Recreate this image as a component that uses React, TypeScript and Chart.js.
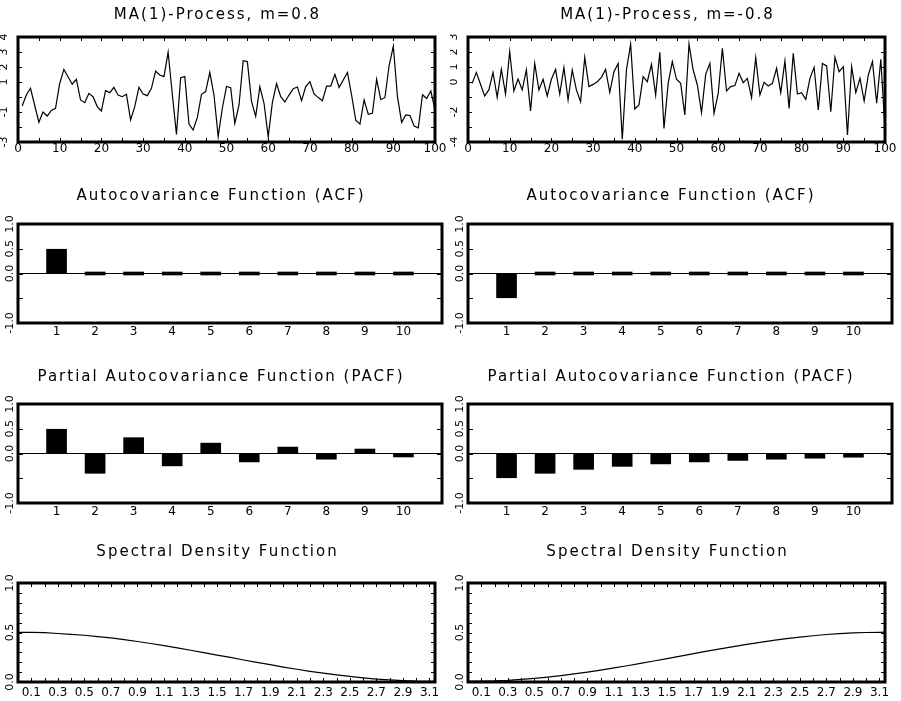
import React, { useEffect, useRef } from 'react';
import { Chart, registerables } from 'chart.js';

Chart.register(...registerables);

const FONT = 'DejaVu Sans';

// ---------- titles ----------
const titleTsPos = 'MA(1)-Process, m=0.8';
const titleTsNeg = 'MA(1)-Process, m=-0.8';
const titleAcf = 'Autocovariance Function (ACF)';
const titlePacf = 'Partial Autocovariance Function (PACF)';
const titleSdf = 'Spectral Density Function';

// ---------- simulated series (t = 1..100) ----------
const seriesPos = [
  -0.60, 0.13, 0.58, -0.55, -1.68, -1.00, -1.27, -0.90, -0.75, 0.90,
  1.84, 1.35, 0.85, 1.18, -0.20, -0.38, 0.24, 0.02, -0.64, -0.93,
  0.42, 0.29, 0.64, 0.13, 0.02, 0.18, -1.53, -0.64, 0.64, 0.20,
  0.09, 0.58, 1.73, 1.47, 1.36, 2.98, 0.20, -2.49, 1.29, 1.36,
  -1.80, -2.20, -1.38, 0.18, 0.36, 1.64, 0.13, -2.64, -0.75, 0.70,
  0.62, -1.76, -0.53, 2.42, 2.36, -0.29, -1.29, 0.69, -0.42, -2.66,
  -0.38, 0.89, 0.02, -0.33, 0.13, 0.55, 0.67, -0.25, 0.69, 1.02,
  0.20, -0.04, -0.25, 0.73, 0.73, 1.51, 0.64, 1.13, 1.64, 0.13,
  -1.55, -1.81, -0.20, -1.16, -1.09, 1.18, -0.18, -0.03, 2.10, 3.38,
  0.02, -1.69, -1.20, -1.24, -1.93, -2.06, 0.15, -0.10, 0.40, -0.85,
];

const seriesNeg = [
  -0.09, 0.64, -0.15, -0.93, -0.53, 0.64, -1.02, 0.84, -0.80, 2.02,
  -0.60, 0.20, -0.53, 0.80, -1.93, 1.24, -0.53, 0.18, -0.93, 0.18,
  0.84, -0.80, 0.96, -1.20, 0.80, -0.53, -1.31, 1.64, -0.31, -0.16,
  0.02, 0.31, 0.84, -0.69, 0.69, 1.24, -3.82, 0.80, 2.53, -1.80,
  -1.53, 0.36, 0.02, 1.18, -0.87, 1.98, -3.09, -0.09, 1.36, 0.18,
  -0.09, -2.20, 2.53, 0.80, -0.20, -2.04, 0.51, 1.24, -2.09, -0.76,
  2.24, -0.60, -0.31, -0.24, 0.58, -0.04, 0.24, -1.04, 1.62, -0.87,
  -0.02, -0.27, -0.09, 0.91, -0.71, 1.40, -1.76, 1.91, -0.80, -0.71,
  -1.16, 0.24, 0.98, -1.87, 1.24, 1.07, -1.98, 1.64, 0.69, 1.02,
  -3.53, 1.02, -0.71, 0.24, -1.27, 0.47, 1.36, -1.42, 1.51, -3.20,
];

// ---------- ACF / PACF ----------
const lags = [1, 2, 3, 4, 5, 6, 7, 8, 9, 10];
const acfPos = [0.49, 0, 0, 0, 0, 0, 0, 0, 0, 0];
const acfNeg = [-0.49, 0, 0, 0, 0, 0, 0, 0, 0, 0];
const pacfPos = [0.49, -0.40, 0.32, -0.25, 0.21, -0.17, 0.13, -0.115, 0.09, -0.07];
const pacfNeg = [-0.49, -0.40, -0.32, -0.26, -0.21, -0.17, -0.14, -0.115, -0.095, -0.075];

// ---------- spectral density ----------
const freq = [
  0, 0.1, 0.2, 0.3, 0.4, 0.5, 0.6, 0.7, 0.8, 0.9, 1.0, 1.1, 1.2, 1.3, 1.4, 1.5,
  1.6, 1.7, 1.8, 1.9, 2.0, 2.1, 2.2, 2.3, 2.4, 2.5, 2.6, 2.7, 2.8, 2.9, 3.0, 3.1, 3.1416,
];
const sdfPos = [
  0.502, 0.501, 0.498, 0.490, 0.482, 0.472, 0.459, 0.445, 0.428, 0.409, 0.389,
  0.367, 0.344, 0.321, 0.297, 0.272, 0.248, 0.222, 0.198, 0.175, 0.151, 0.129,
  0.108, 0.090, 0.072, 0.056, 0.042, 0.030, 0.021, 0.014, 0.009, 0.007, 0.006,
];
const sdfNeg = [
  0.007, 0.008, 0.011, 0.017, 0.026, 0.037, 0.050, 0.065, 0.082, 0.100, 0.120,
  0.142, 0.164, 0.188, 0.212, 0.237, 0.262, 0.286, 0.311, 0.335, 0.358, 0.380,
  0.401, 0.420, 0.438, 0.453, 0.467, 0.480, 0.488, 0.496, 0.500, 0.502, 0.503,
];

// ---------- ticks ----------
const tsXTickValues = [0, 5, 10, 15, 20, 25, 30, 35, 40, 45, 50, 55, 60, 65, 70, 75, 80, 85, 90, 95, 100];
const tsXTickLabels = ['0', '', '10', '', '20', '', '30', '', '40', '', '50', '', '60', '', '70', '', '80', '', '90', '', '100'];
const tsYTickValuesPos = [-3, -2, -1, 0, 1, 2, 3, 4];
const tsYTickLabelsPos = ['-3', '', '-1', '', '1', '2', '3', '4'];
const tsYTickValuesNeg = [-4, -3, -2, -1, 0, 1, 2, 3];
const tsYTickLabelsNeg = ['-4', '', '-2', '', '0', '1', '2', '3'];
const lagTickLabels = ['1', '2', '3', '4', '5', '6', '7', '8', '9', '10'];
const corrTickValues = [-1, -0.5, 0, 0.5, 1];
const corrTickLabels = ['-1.0', '', '0.0', '0.5', '1.0'];
const freqTickValues = [
  0.1, 0.2, 0.3, 0.4, 0.5, 0.6, 0.7, 0.8, 0.9, 1.0, 1.1, 1.2, 1.3, 1.4, 1.5, 1.6,
  1.7, 1.8, 1.9, 2.0, 2.1, 2.2, 2.3, 2.4, 2.5, 2.6, 2.7, 2.8, 2.9, 3.0, 3.1,
];
const freqTickLabels = [
  '0.1', '', '0.3', '', '0.5', '', '0.7', '', '0.9', '', '1.1', '', '1.3', '', '1.5', '',
  '1.7', '', '1.9', '', '2.1', '', '2.3', '', '2.5', '', '2.7', '', '2.9', '', '3.1',
];
const densTickValues = [0, 0.1, 0.2, 0.3, 0.4, 0.5, 0.6, 0.7, 0.8, 0.9, 1.0];
const densTickLabels = ['0.0', '', '', '', '', '0.5', '', '', '', '', '1.0'];

// ---------- frame plugin: thick box + inward tick marks, title letter spacing ----------
const framePlugin = {
  id: 'frame',
  beforeDraw(chart: any) {
    chart.ctx.letterSpacing = '2px';
  },
  beforeDatasetsDraw(chart: any) {
    chart.ctx.letterSpacing = '0px';
  },
  afterDraw(chart: any, _args: any, opts: any) {
    const { ctx, chartArea: a, scales } = chart;
    ctx.save();
    ctx.letterSpacing = '0px';
    ctx.strokeStyle = '#000';
    ctx.lineWidth = 1;
    const tl = opts.tickLen || 4;
    const seg = (x1: number, y1: number, x2: number, y2: number) => {
      ctx.beginPath();
      ctx.moveTo(x1, y1);
      ctx.lineTo(x2, y2);
      ctx.stroke();
    };
    if (opts.xTicks) {
      for (const t of scales.x.ticks) {
        const px = Math.round(scales.x.getPixelForValue(t.value)) + 0.5;
        seg(px, a.bottom, px, a.bottom - tl);
        seg(px, a.top, px, a.top + tl);
      }
    }
    if (opts.yTicks) {
      for (const t of scales.y.ticks) {
        const py = Math.round(scales.y.getPixelForValue(t.value)) + 0.5;
        seg(a.left, py, a.left + tl, py);
        seg(a.right - tl, py, a.right, py);
      }
    }
    ctx.lineWidth = 3;
    ctx.strokeRect(a.left, a.top, a.right - a.left, a.bottom - a.top);
    ctx.restore();
    chart.ctx.letterSpacing = '0px';
  },
};

type Spec = {
  title: string;
  kind: 'line' | 'bar';
  points: { x: number; y: number }[];
  xMin: number; xMax: number; xTicks: number[]; xLabels: string[];
  yMin: number; yMax: number; yTicks: number[]; yLabels: string[];
  left: number; top: number; width: number; height: number;
  padR: number; titleGap: number; xAxisH: number; xLabelPad: number; yLabelPad: number;
  xTickMarks: boolean; yTickMarks: boolean; zeroLine: boolean; tickLen: number;
};

function makeConfig(s: Spec): any {
  const dataset =
    s.kind === 'bar'
      ? { data: s.points, backgroundColor: '#000', borderWidth: 0, barThickness: 20, minBarLength: 3 }
      : { data: s.points, borderColor: '#000', borderWidth: 1.2, pointRadius: 0, tension: 0, fill: false };
  return {
    type: s.kind,
    data: { datasets: [dataset] },
    plugins: [framePlugin],
    options: {
      animation: false,
      responsive: false,
      events: [],
      layout: { padding: { left: 0, right: s.padR, top: 6, bottom: 0 } },
      plugins: {
        legend: { display: false },
        tooltip: { enabled: false },
        title: {
          display: true,
          text: s.title,
          color: '#000',
          font: { family: FONT, size: 15, weight: 'normal', lineHeight: 1.2 },
          padding: { top: 0, bottom: s.titleGap },
        },
        frame: { xTicks: s.xTickMarks, yTicks: s.yTickMarks, tickLen: s.tickLen },
      },
      scales: {
        x: {
          type: 'linear',
          min: s.xMin,
          max: s.xMax,
          bounds: 'data',
          offset: false,
          afterBuildTicks: (sc: any) => {
            sc.ticks = s.xTicks.map((v) => ({ value: v }));
          },
          afterFit: (sc: any) => {
            sc.height = s.xAxisH;
          },
          grid: { display: false, drawTicks: false, offset: false },
          border: { display: false },
          ticks: {
            autoSkip: false,
            minRotation: 0,
            maxRotation: 0,
            padding: s.xLabelPad,
            color: '#000',
            z: 1,
            font: { family: FONT, size: 12 },
            callback: (_v: any, i: number) => s.xLabels[i] ?? '',
          },
        },
        y: {
          type: 'linear',
          min: s.yMin,
          max: s.yMax,
          bounds: 'data',
          afterBuildTicks: (sc: any) => {
            sc.ticks = s.yTicks.map((v) => ({ value: v }));
          },
          afterFit: (sc: any) => {
            sc.width = 18;
          },
          grid: {
            display: s.zeroLine,
            drawTicks: false,
            drawOnChartArea: true,
            lineWidth: 1,
            color: (c: any) => (c.tick && c.tick.value === 0 ? '#000' : 'rgba(0,0,0,0)'),
          },
          border: { display: false },
          ticks: {
            autoSkip: false,
            minRotation: 90,
            maxRotation: 90,
            crossAlign: 'center',
            padding: s.yLabelPad,
            color: '#000',
            z: 1,
            font: { family: FONT, size: 11 },
            callback: (_v: any, i: number) => s.yLabels[i] ?? '',
          },
        },
      },
    },
  };
}

function Panel({ spec }: { spec: Spec }) {
  const ref = useRef<HTMLCanvasElement>(null);
  useEffect(() => {
    const chart = new Chart(ref.current as HTMLCanvasElement, makeConfig(spec));
    return () => chart.destroy();
  }, [spec]);
  return (
    <canvas
      ref={ref}
      width={spec.width}
      height={spec.height}
      style={{ position: 'absolute', left: spec.left, top: spec.top, width: spec.width, height: spec.height }}
    />
  );
}

const COLS = [
  { left: 0, width: 450, padTs: 15, padAcf: 8 },
  { left: 450, width: 451, padTs: 16, padAcf: 9 },
];
const ROWS = [
  { top: 0, height: 167, titleGap: 13, xAxisH: 25 },
  { top: 181, height: 167, titleGap: 19, xAxisH: 25 },
  { top: 362, height: 166, titleGap: 18, xAxisH: 25 },
  { top: 537, height: 164, titleGap: 22, xAxisH: 19 },
];

const toPts = (xs: number[], ys: number[]) => ys.map((y, i) => ({ x: xs[i], y }));
const tsPts = (ys: number[]) => ys.map((y, i) => ({ x: i + 1, y }));

function buildSpecs(): Spec[] {
  const specs: Spec[] = [];
  [0, 1].forEach((c) => {
    const col = COLS[c];
    const pos = c === 0;
    const r0 = ROWS[0], r1 = ROWS[1], r2 = ROWS[2], r3 = ROWS[3];
    specs.push({
      title: pos ? titleTsPos : titleTsNeg,
      kind: 'line',
      points: tsPts(pos ? seriesPos : seriesNeg),
      xMin: 0, xMax: 100, xTicks: tsXTickValues, xLabels: tsXTickLabels,
      yMin: pos ? -3 : -4, yMax: pos ? 4 : 3,
      yTicks: pos ? tsYTickValuesPos : tsYTickValuesNeg,
      yLabels: pos ? tsYTickLabelsPos : tsYTickLabelsNeg,
      left: col.left, top: r0.top, width: col.width, height: r0.height,
      padR: col.padTs, titleGap: r0.titleGap, xAxisH: r0.xAxisH, xLabelPad: 0, yLabelPad: 8,
      xTickMarks: true, yTickMarks: true, zeroLine: false, tickLen: 4,
    });
    specs.push({
      title: titleAcf,
      kind: 'bar',
      points: toPts(lags, pos ? acfPos : acfNeg),
      xMin: 0, xMax: 11, xTicks: lags, xLabels: lagTickLabels,
      yMin: -1, yMax: 1, yTicks: corrTickValues, yLabels: corrTickLabels,
      left: col.left, top: r1.top, width: col.width, height: r1.height,
      padR: col.padAcf, titleGap: r1.titleGap, xAxisH: r1.xAxisH, xLabelPad: 2, yLabelPad: -3,
      xTickMarks: false, yTickMarks: true, zeroLine: true, tickLen: 5,
    });
    specs.push({
      title: titlePacf,
      kind: 'bar',
      points: toPts(lags, pos ? pacfPos : pacfNeg),
      xMin: 0, xMax: 11, xTicks: lags, xLabels: lagTickLabels,
      yMin: -1, yMax: 1, yTicks: corrTickValues, yLabels: corrTickLabels,
      left: col.left, top: r2.top, width: col.width, height: r2.height,
      padR: col.padAcf, titleGap: r2.titleGap, xAxisH: r2.xAxisH, xLabelPad: 2, yLabelPad: -3,
      xTickMarks: false, yTickMarks: true, zeroLine: true, tickLen: 5,
    });
    specs.push({
      title: titleSdf,
      kind: 'line',
      points: toPts(freq, pos ? sdfPos : sdfNeg),
      xMin: 0, xMax: 3.1416, xTicks: freqTickValues, xLabels: freqTickLabels,
      yMin: 0, yMax: 1, yTicks: densTickValues, yLabels: densTickLabels,
      left: col.left, top: r3.top, width: col.width, height: r3.height,
      padR: col.padTs, titleGap: r3.titleGap, xAxisH: r3.xAxisH, xLabelPad: 4, yLabelPad: -1,
      xTickMarks: true, yTickMarks: true, zeroLine: false, tickLen: 4,
    });
  });
  return specs;
}

const SPECS = buildSpecs();

export default function App() {
  return (
    <div
      style={{
        position: 'absolute',
        left: 0,
        top: 0,
        width: 901,
        height: 701,
        overflow: 'hidden',
        background: '#fff',
      }}
    >
      {SPECS.map((s, i) => (
        <Panel key={i} spec={s} />
      ))}
    </div>
  );
}
